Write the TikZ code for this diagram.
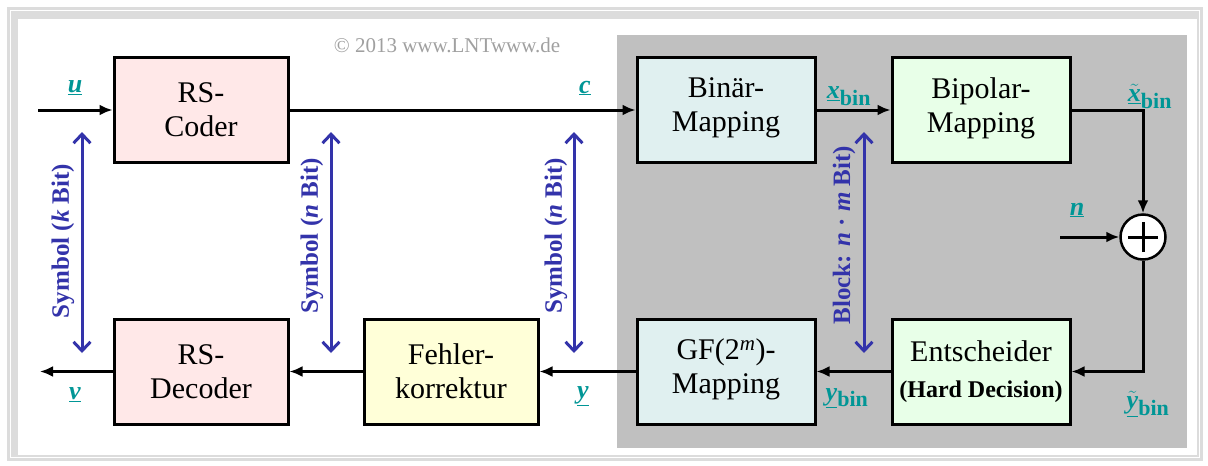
\documentclass[tikz,border=0pt]{standalone}
\usepackage{fontspec}
\setmainfont{Liberation Serif}
\usetikzlibrary{arrows.meta}
\definecolor{framegray}{RGB}{220,220,220}
\definecolor{regiongray}{RGB}{192,192,192}
\definecolor{rspink}{RGB}{255,232,232}
\definecolor{mapcyan}{RGB}{224,240,240}
\definecolor{bipgreen}{RGB}{232,255,232}
\definecolor{fkyellow}{RGB}{255,255,216}
\definecolor{lblue}{RGB}{51,51,170}
\definecolor{lteal}{RGB}{0,150,150}
\definecolor{copygray}{RGB}{160,160,160}
\newcommand{\uvar}[1]{\underline{\textbf{\textit{#1}}}}
\newcommand{\binsub}{\textsubscript{\fontsize{22}{24}\selectfont\textbf{bin}}}
\begin{document}
\begin{tikzpicture}[x=1pt,y=-1pt,
  blk/.style={draw=black, line width=3pt, minimum width=174pt, minimum height=105pt,
    align=center, inner sep=0pt, font=\rmfamily\fontsize{30}{34}\selectfont},
  sig/.style={line width=3pt, -{Latex[length=13pt,width=11pt]}},
  bidir/.style={draw=lblue, line width=3pt,
    {Straight Barb[length=9pt,width=17pt]}-{Straight Barb[length=9pt,width=17pt]}},
  blab/.style={text=lblue, rotate=90, font=\rmfamily\fontsize{25}{27}\selectfont\bfseries},
  vlab/.style={text=lteal, font=\rmfamily\fontsize{26}{28}\selectfont, inner sep=0pt}]
\useasboundingbox (0,0) rectangle (1208,466);
\fill[white] (0,0) rectangle (1208,466);
% frame
\fill[framegray] (7,7) rectangle (1203,461);
\draw[white, line width=1.5pt] (10.5,10.5) rectangle (1199.5,457.5);
\fill[white] (18,19) rectangle (1197,455);
% gray region
\fill[regiongray] (617,35) rectangle (1187,448);
% copyright
\node[text=copygray, font=\rmfamily\fontsize{21}{23}\selectfont] (copy) at (447,45) {© 2013 www.LNTwww.de};
% blocks
\node[blk, fill=rspink] (coder) at (201,110) {RS-\\Coder};
\node[blk, fill=mapcyan, minimum width=178pt] (bin) at (726,110) {Binär-\\Mapping\strut};
\node[blk, fill=bipgreen, minimum width=178pt] (bip) at (981,110) {Bipolar-\\Mapping\strut};
\node[blk, fill=rspink] (dec) at (201,371.5) {RS-\\Decoder};
\node[blk, fill=fkyellow] (fk) at (451,371.5) {Fehler-\\korrektur};
\node[blk, fill=mapcyan, minimum width=178pt] (gf) at (726,371.5) {GF(2\textsuperscript{\textit{m}})-\\Mapping\strut};
\node[blk, fill=bipgreen, minimum width=178pt] (ent) at (981,371.5) {Entscheider\\[2pt]{\fontsize{24}{26}\selectfont\bfseries (Hard Decision)}};
% adder
\node[circle, draw=black, fill=white, line width=2.5pt, minimum size=45pt, inner sep=0pt,
  path picture={\draw[line width=3pt] ([xshift=-15pt]path picture bounding box.center) -- ([xshift=15pt]path picture bounding box.center);
                \draw[line width=3pt] ([yshift=-15pt]path picture bounding box.center) -- ([yshift=15pt]path picture bounding box.center);}]
  (add) at (1143,237) {};
% connectors
\coordinate (uin) at (38,110);
\coordinate (vout) at (40,371.5);
\coordinate (nin) at (1060,237);
\draw[sig] (uin) -- (coder.west);
\draw[sig] (coder.east) -- (bin.west);
\draw[sig] (bin.east) -- (bip.west);
\draw[sig] (bip.east) -| (add.north);
\draw[sig] (nin) -- (add.west);
\draw[sig] (add.south) |- (ent.east);
\draw[sig] (ent.west) -- (gf.east);
\draw[sig] (gf.west) -- (fk.east);
\draw[sig] (fk.west) -- (dec.east);
\draw[sig] (dec.west) -- (vout);
% blue double arrows
\coordinate (a1t) at (82,132); \coordinate (a1b) at (82,353);
\coordinate (a2t) at (331,132); \coordinate (a2b) at (331,353);
\coordinate (a3t) at (574,132); \coordinate (a3b) at (574,353);
\coordinate (a4t) at (864,132); \coordinate (a4b) at (864,353);
\draw[bidir] (a1t) -- (a1b);
\draw[bidir] (a2t) -- (a2b);
\draw[bidir] (a3t) -- (a3b);
\draw[bidir] (a4t) -- (a4b);
\node[blab] (l1) at (63,241) {Symbol (\textit{k} Bit)};
\node[blab] (l2) at (312,236) {Symbol (\textit{n} Bit)};
\node[blab] (l3) at (556,236) {Symbol (\textit{n} Bit)};
\node[blab] (l4) at (844,235) {Block: \textit{n} · \textit{m} Bit)};
% signal labels
\node[vlab] (lu) at (75,88) {\uvar{u}};
\node[vlab] (lc) at (585,88) {\uvar{c}};
\node[vlab] (lx) at (849,96) {\uvar{x}\binsub};
\node[vlab] (lxt) at (1150,96) {$\tilde{\mbox{\uvar{x}}}$\binsub};
\node[vlab] (ln) at (1077,210) {\uvar{n}};
\node[vlab] (lv) at (75,395) {\uvar{v}};
\node[vlab] (ly) at (583,396) {\uvar{y}};
\node[vlab] (lyb) at (847,398) {\uvar{y}\binsub};
\node[vlab] (lyt) at (1148,404) {$\tilde{\mbox{\uvar{y}}}$\binsub};
\end{tikzpicture}
\end{document}
